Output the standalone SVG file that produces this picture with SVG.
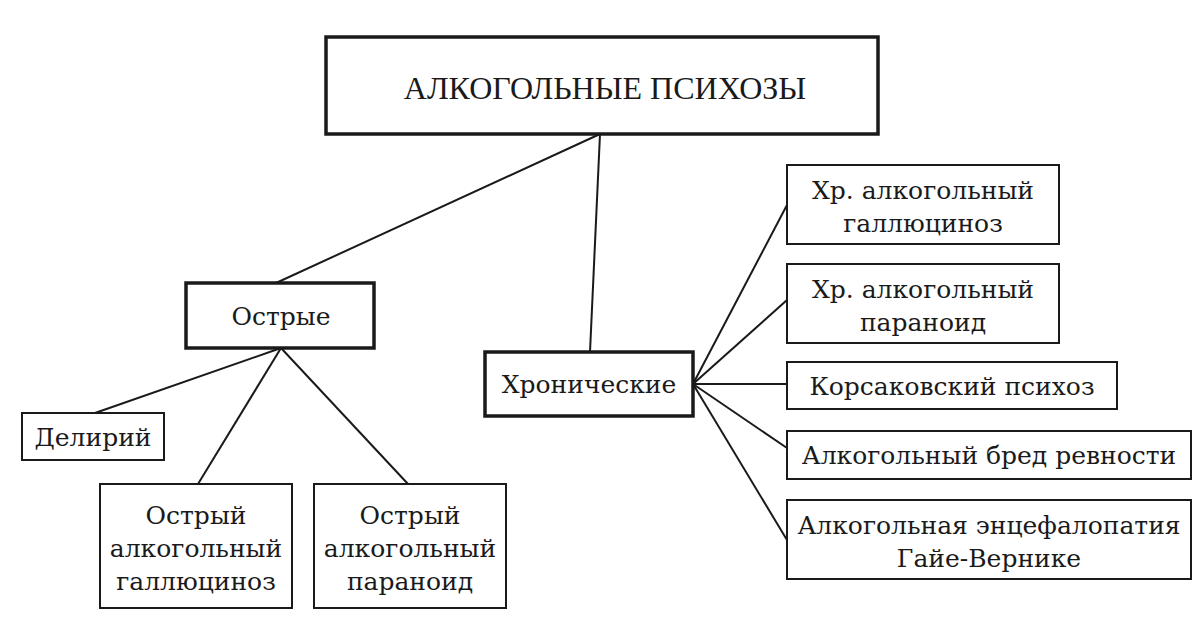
<svg xmlns="http://www.w3.org/2000/svg" width="1200" height="618" viewBox="0 0 1200 618">
<style>
.b{fill:#fff;stroke:#1a1a1a;stroke-width:2}
.k{fill:#fff;stroke:#1a1a1a;stroke-width:3.5}
text{font-family:"DejaVu Serif","Liberation Serif",serif;font-size:25px;fill:#1a1a1a;text-anchor:middle}
.c line{stroke:#1a1a1a;stroke-width:2}
</style>
<rect width="1200" height="618" fill="#fff"/>
<g class="c">
<line x1="600" y1="134" x2="276" y2="283"/>
<line x1="600" y1="134" x2="590" y2="352"/>
<line x1="281" y1="348" x2="95" y2="413"/>
<line x1="281" y1="348" x2="198" y2="484"/>
<line x1="281" y1="348" x2="408" y2="484"/>
<line x1="693" y1="384" x2="787" y2="205"/>
<line x1="693" y1="384" x2="787" y2="300"/>
<line x1="693" y1="384" x2="787" y2="384"/>
<line x1="693" y1="384" x2="787" y2="448"/>
<line x1="693" y1="384" x2="787" y2="540"/>
</g>
<g id="root"><rect class="k" x="326" y="37" width="552" height="97"/><text x="605" y="99" style="font-family:'Liberation Serif',serif;font-size:32px">АЛКОГОЛЬНЫЕ ПСИХОЗЫ</text></g>
<g id="acute"><rect class="k" x="186" y="283" width="188" height="65"/><text x="281" y="325">Острые</text></g>
<g id="chronic"><rect class="k" x="485" y="352" width="208" height="64"/><text x="589" y="393">Хронические</text></g>
<g id="delir"><rect class="b" x="22" y="413" width="142" height="47"/><text x="93" y="446">Делирий</text></g>
<g id="oag"><rect class="b" x="100" y="484" width="192" height="124"/><text x="196" y="524">Острый</text><text x="196" y="557">алкогольный</text><text x="196" y="590">галлюциноз</text></g>
<g id="oap"><rect class="b" x="314" y="484" width="192" height="124"/><text x="410" y="524">Острый</text><text x="410" y="557">алкогольный</text><text x="410" y="590">параноид</text></g>
<g id="r1"><rect class="b" x="787" y="165" width="272" height="79"/><text x="923" y="199">Хр. алкогольный</text><text x="923" y="232">галлюциноз</text></g>
<g id="r2"><rect class="b" x="787" y="264" width="272" height="79"/><text x="923" y="298">Хр. алкогольный</text><text x="923" y="331">параноид</text></g>
<g id="r3"><rect class="b" x="787" y="362" width="330" height="47"/><text x="952" y="395">Корсаковский психоз</text></g>
<g id="r4"><rect class="b" x="787" y="431" width="404" height="48"/><text x="989" y="464">Алкогольный бред ревности</text></g>
<g id="r5"><rect class="b" x="787" y="500" width="404" height="79"/><text x="989" y="534">Алкогольная энцефалопатия</text><text x="989" y="567">Гайе-Вернике</text></g>
</svg>
